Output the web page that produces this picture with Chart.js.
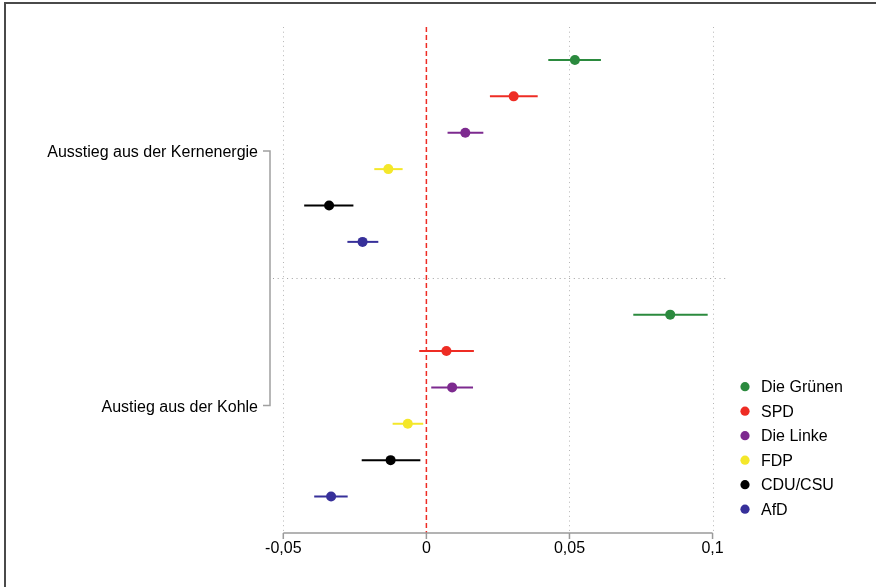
<!DOCTYPE html>
<html>
<head>
<meta charset="utf-8">
<script src="https://cdn.jsdelivr.net/npm/chart.js@4.4.1/dist/chart.umd.min.js"></script>
<style>
html,body{margin:0;padding:0;background:#fff;}
canvas{display:block;}
</style>
</head>
<body>
<canvas id="c" width="876" height="587"></canvas>
<script>
// ---- data ----
const parties = ['Die Grünen', 'SPD', 'Die Linke', 'FDP', 'CDU/CSU', 'AfD'];
const partyColors = ['#2b8a3e', '#ee2c24', '#7d2a8f', '#f4e72a', '#000000', '#37309a'];
const groups = ['Ausstieg aus der Kernenergie', 'Austieg aus der Kohle'];

const estKern = [0.0519, 0.0305, 0.0136, -0.0133, -0.0340, -0.0223];
const loKern  = [0.0426, 0.0222, 0.0074, -0.0182, -0.0427, -0.0276];
const hiKern  = [0.0610, 0.0389, 0.0199, -0.0083, -0.0255, -0.0168];

const estKohle = [0.0852, 0.0070, 0.0090, -0.0065, -0.0125, -0.0333];
const loKohle  = [0.0723, -0.0025, 0.0017, -0.0118, -0.0226, -0.0392];
const hiKohle  = [0.0983, 0.0166, 0.0163, -0.0011, -0.0021, -0.0275];

const xTicks = [-0.05, 0, 0.05, 0.1];
const xGrid = [-0.05, 0.05, 0.1];

// ---- derived ----
const est = [estKern, estKohle];
const lo = [loKern, loKohle];
const hi = [hiKern, hiKohle];
const GROUP_STEP = 7; // slots per group (6 parties + gap)
const pos = (g, i) => g * GROUP_STEP + i;
const groupCenter = g => g * GROUP_STEP + (parties.length - 1) / 2;
const separator = parties.length; // gap slot between groups

const fmt = v => (v === 0 ? '0' : String(v).replace('.', ','));
const FONT = '16px "Liberation Sans", Arial, sans-serif';

const datasets = parties.map((p, i) => ({
  label: p,
  data: groups.map((g, gi) => ({ x: est[gi][i], y: pos(gi, i) })),
  backgroundColor: partyColors[i],
  borderColor: partyColors[i],
  pointRadius: 5,
  pointHoverRadius: 5,
  borderWidth: 0
}));

const decor = {
  id: 'decor',
  beforeDraw(chart) {
    const ctx = chart.ctx;
    ctx.save();
    ctx.fillStyle = '#fff';
    ctx.fillRect(0, 0, chart.width, chart.height);
    // frame (top + left)
    ctx.strokeStyle = '#4a4a4a';
    ctx.lineWidth = 2;
    ctx.beginPath();
    ctx.moveTo(5, chart.height);
    ctx.lineTo(5, 3);
    ctx.lineTo(chart.width, 3);
    ctx.stroke();
    ctx.restore();
  },
  beforeDatasetsDraw(chart) {
    const ctx = chart.ctx;
    const xs = chart.scales.x, ys = chart.scales.y;
    const a = chart.chartArea;
    ctx.save();
    // vertical dotted grid
    ctx.strokeStyle = '#b5b5b5';
    ctx.lineWidth = 1;
    ctx.setLineDash([1, 3.7]);
    xGrid.forEach(v => {
      const x = Math.round(xs.getPixelForValue(v)) + 0.5;
      ctx.beginPath();
      ctx.moveTo(x, a.top);
      ctx.lineTo(x, a.bottom);
      ctx.stroke();
    });
    // horizontal separator
    ctx.strokeStyle = '#a0a0a0';
    const ySep = Math.round(ys.getPixelForValue(separator)) + 0.5;
    ctx.beginPath();
    ctx.moveTo(a.left - 2, ySep);
    ctx.lineTo(a.right, ySep);
    ctx.stroke();
    // zero line
    ctx.strokeStyle = '#ee2c24';
    ctx.lineWidth = 1.5;
    ctx.setLineDash([5, 3]);
    const x0 = xs.getPixelForValue(0);
    ctx.beginPath();
    ctx.moveTo(x0, a.top);
    ctx.lineTo(x0, a.bottom);
    ctx.stroke();
    ctx.setLineDash([]);

    // x axis line + ticks + labels
    ctx.strokeStyle = '#9a9a9a';
    ctx.lineWidth = 1.5;
    const xa = xs.getPixelForValue(xTicks[0]);
    const xb = xs.getPixelForValue(xTicks[xTicks.length - 1]);
    const yAxis = a.bottom;
    ctx.beginPath();
    ctx.moveTo(xa, yAxis);
    ctx.lineTo(xb, yAxis);
    ctx.stroke();
    ctx.fillStyle = '#000';
    ctx.font = FONT;
    ctx.textAlign = 'center';
    ctx.textBaseline = 'middle';
    xTicks.forEach(v => {
      const x = xs.getPixelForValue(v);
      ctx.beginPath();
      ctx.moveTo(x, yAxis);
      ctx.lineTo(x, yAxis + 6);
      ctx.stroke();
      ctx.fillText(fmt(v), x, yAxis + 16);
    });

    // y bracket + group labels
    const bx = a.left - 5;
    const y1 = ys.getPixelForValue(groupCenter(0));
    const y2 = ys.getPixelForValue(groupCenter(1));
    ctx.strokeStyle = '#a0a0a0';
    ctx.lineWidth = 1.5;
    ctx.beginPath();
    ctx.moveTo(bx - 7, y1);
    ctx.lineTo(bx, y1);
    ctx.lineTo(bx, y2);
    ctx.lineTo(bx - 7, y2);
    ctx.stroke();
    ctx.textAlign = 'right';
    groups.forEach((g, gi) => {
      ctx.fillText(g, bx - 12, ys.getPixelForValue(groupCenter(gi)) + 2);
    });

    // error bars
    ctx.lineWidth = 2;
    groups.forEach((g, gi) => {
      parties.forEach((p, i) => {
        const y = ys.getPixelForValue(pos(gi, i));
        ctx.strokeStyle = partyColors[i];
        ctx.beginPath();
        ctx.moveTo(xs.getPixelForValue(lo[gi][i]), y);
        ctx.lineTo(xs.getPixelForValue(hi[gi][i]), y);
        ctx.stroke();
      });
    });

    // legend
    ctx.textAlign = 'left';
    const lx = a.right + 19, ly = 386.7, step = 24.5;
    parties.forEach((p, i) => {
      const y = ly + i * step;
      ctx.fillStyle = partyColors[i];
      ctx.beginPath();
      ctx.arc(lx, y, 4.6, 0, Math.PI * 2);
      ctx.fill();
      ctx.fillStyle = '#000';
      ctx.fillText(p, lx + 16, y + 1);
    });
    ctx.restore();
  }
};

new Chart(document.getElementById('c'), {
  type: 'scatter',
  data: { datasets },
  options: {
    responsive: false,
    animation: false,
    devicePixelRatio: 1,
    layout: { padding: { left: 275, right: 150, top: 27, bottom: 54 } },
    plugins: { legend: { display: false }, tooltip: { enabled: false } },
    scales: {
      x: { type: 'linear', min: -0.0529, max: 0.1047, display: false },
      y: { type: 'linear', min: -0.907, max: 13.003, reverse: true, display: false }
    }
  },
  plugins: [decor]
});
</script>
</body>
</html>
